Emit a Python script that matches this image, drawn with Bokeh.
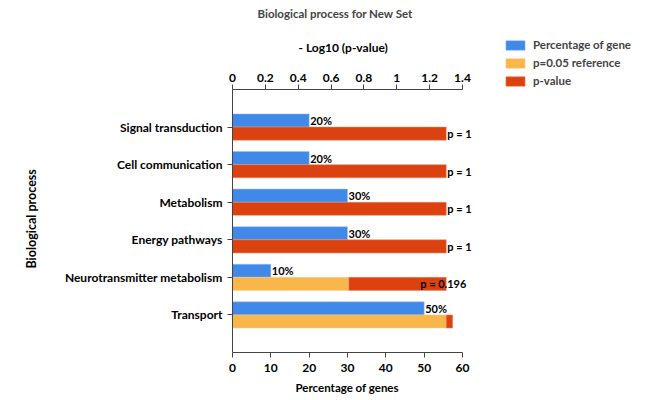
from bokeh.plotting import figure
from bokeh.models import (Range1d, LinearAxis, FixedTicker, Legend, LegendItem,
                          ColumnDataSource, Title)
from bokeh.embed import file_html
from bokeh.resources import INLINE
from bokeh.core.properties import value

# ---- data ----
categories = ["Signal transduction", "Cell communication", "Metabolism",
              "Energy pathways", "Neurotransmitter metabolism", "Transport"]
pct_genes = [20, 20, 30, 30, 10, 50]
pct_labels = ["20%", "20%", "30%", "30%", "10%", "50%"]
ref_log = [0, 0, 0, 0, 0.708, 1.301]          # p=0.05 reference segment (-log10 scale)
pval_log = [1.301, 1.301, 1.301, 1.301, 1.301, 1.34]  # end of p-value segment
p_labels = ["p = 1", "p = 1", "p = 1", "p = 1", "p = 0.196", ""]
p_label_shift = [1, 1, 1, 1, -26, 0]
top_ticks = [0, 0.2, 0.4, 0.6, 0.8, 1, 1.2, 1.4]
bottom_ticks = [0, 10, 20, 30, 40, 50, 60]
legend_labels = ["Percentage of gene", "p=0.05 reference", "p-value"]

BLUE = "#4189E8"
ORANGE = "#F9B64A"
RED = "#DC420F"
AXIS_COL = "#444444"
FONT = "Lato"

# ---- layout geometry (pixels) ----
W, HGT = 645, 400
FRAME_L, ZERO_X = 226, 232       # frame starts slightly left of the zero line
FRAME_T, FRAME_B = 26, 352
AXIS_T = 89                      # where the category band (and top axis) starts
AXIS_LEN = 230                   # pixel length of the 0..60 axis
X_MAX, LOG_MAX = 60, 1.4
X_START = -X_MAX * (ZERO_X - FRAME_L) / AXIS_LEN
X_END = X_MAX * (W - ZERO_X) / AXIS_LEN
LOG_START = X_START * LOG_MAX / X_MAX
LOG_END = X_END * LOG_MAX / X_MAX
N_SLOTS = len(categories) + 1
SLOT = (FRAME_B - AXIS_T) / N_SLOTS
Y_TOP = -(AXIS_T - FRAME_T) / SLOT

pos = list(range(1, len(categories) + 1))
src = ColumnDataSource(dict(
    pos=pos,
    blue_y=[c - 0.175 for c in pos],
    red_y=[c + 0.175 for c in pos],
    pct=pct_genes, pct_lab=pct_labels,
    ref=ref_log, pend=pval_log, plab=p_labels, pshift=p_label_shift,
))

p = figure(width=W, height=HGT, output_backend="svg", toolbar_location=None,
           x_range=Range1d(X_START, X_END), y_range=Range1d(N_SLOTS, Y_TOP))
p.extra_x_ranges = {"log": Range1d(LOG_START, LOG_END)}
p.min_border_left = FRAME_L
p.min_border_right = 0
p.min_border_top = FRAME_T
p.min_border_bottom = HGT - FRAME_B
p.outline_line_color = None
p.grid.visible = False
p.background_fill_color = "white"

H = 0.35
blue = p.hbar(y="blue_y", left=0, right="pct", height=H, source=src,
              fill_color=BLUE, line_color="#9cc2f2", line_width=0.5)
orange = p.hbar(y="red_y", left=0, right="ref", height=H, source=src,
                x_range_name="log", fill_color=ORANGE, line_color="#fbd08a",
                line_width=0.5)
red = p.hbar(y="red_y", left="ref", right="pend", height=H, source=src,
             x_range_name="log", fill_color=RED, line_color="#e98a6a",
             line_width=0.5)

p.text(x="pct", y="blue_y", text="pct_lab", source=src, x_offset=1,
       text_font=value(FONT), text_font_style="bold", text_font_size="11px",
       text_baseline="middle", text_align="left", text_color="black")
p.text(x="pend", y="red_y", text="plab", source=src, x_offset="pshift",
       x_range_name="log", text_font=value(FONT), text_font_style="bold",
       text_font_size="11px", text_baseline="middle", text_align="left",
       text_color="black")

def style_axis(ax, size="12px"):
    ax.major_label_text_font = FONT
    ax.major_label_text_font_style = "bold"
    ax.major_label_text_font_size = size
    ax.major_label_text_color = "black"
    ax.axis_line_color = AXIS_COL
    ax.major_tick_line_color = AXIS_COL
    ax.minor_tick_line_color = None
    ax.major_tick_out = 5
    ax.major_tick_in = 0

def make_title(text, offset, standoff, size="12px", valign="bottom"):
    return Title(text=text, align="left", offset=offset, standoff=standoff,
                 vertical_align=valign, text_font=FONT, text_font_style="bold",
                 text_font_size=size, text_color="black")

# bottom axis
xb = p.xaxis[0]
xb.ticker = FixedTicker(ticks=bottom_ticks)
xb.bounds = (0, X_MAX)
style_axis(xb)
xb.major_label_standoff = 6
p.add_layout(make_title("Percentage of genes", 63 + ZERO_X - FRAME_L, 9,
                        size="11.5px"), "below")

# top axis, drawn at the top of the category band
xt = LinearAxis(x_range_name="log", ticker=FixedTicker(ticks=top_ticks),
                bounds=(0, LOG_MAX), fixed_location=0)
style_axis(xt)
xt.major_label_standoff = 3
p.add_layout(xt, "above")
p.text(x=[0], y=[0], text=["- Log10 (p-value)"], x_range_name="log",
       x_offset=66, y_offset=-42, text_font=value(FONT), text_font_style="bold",
       text_font_size="12px", text_baseline="middle", text_align="left",
       text_color="black")

# left axis: category names in the side panel ...
ya = p.yaxis[0]
ya.ticker = FixedTicker(ticks=pos)
ya.major_label_overrides = {c: n for c, n in zip(pos, categories)}
style_axis(ya)
ya.axis_line_color = None
ya.major_tick_line_color = None
ya.major_tick_out = 0
ya.major_label_standoff = 4
# ... and the axis rule with its ticks at the zero line
ya_rule = LinearAxis(ticker=FixedTicker(ticks=pos), bounds=(0, N_SLOTS),
                     fixed_location=0)
style_axis(ya_rule)
ya_rule.major_label_text_color = None
p.add_layout(ya_rule, "left")
p.add_layout(make_title("Biological process", 84, 41, size="12.5px",
                        valign="top"), "left")

# main title
p.title.text = "Biological process for New Set"
p.title.align = "left"
p.title.offset = 25 + ZERO_X - FRAME_L
p.title.standoff = 10
p.title.vertical_align = "top"
p.title.text_font = FONT
p.title.text_font_style = "bold"
p.title.text_font_size = "11.5px"

legend = Legend(items=[LegendItem(label=lab, renderers=[r])
                       for lab, r in zip(legend_labels, [blue, orange, red])],
                location=(503 - FRAME_L, FRAME_B - 87))
legend.label_text_font = FONT
legend.label_text_font_style = "bold"
legend.label_text_font_size = "11.5px"
legend.glyph_width = 24
legend.glyph_height = 12
legend.label_height = 12
legend.spacing = 5
legend.padding = 0
legend.margin = 0
legend.border_line_color = None
legend.background_fill_alpha = 0
legend.label_standoff = 6
p.add_layout(legend, "center")

open("out.html", "w").write(file_html(p, INLINE))
